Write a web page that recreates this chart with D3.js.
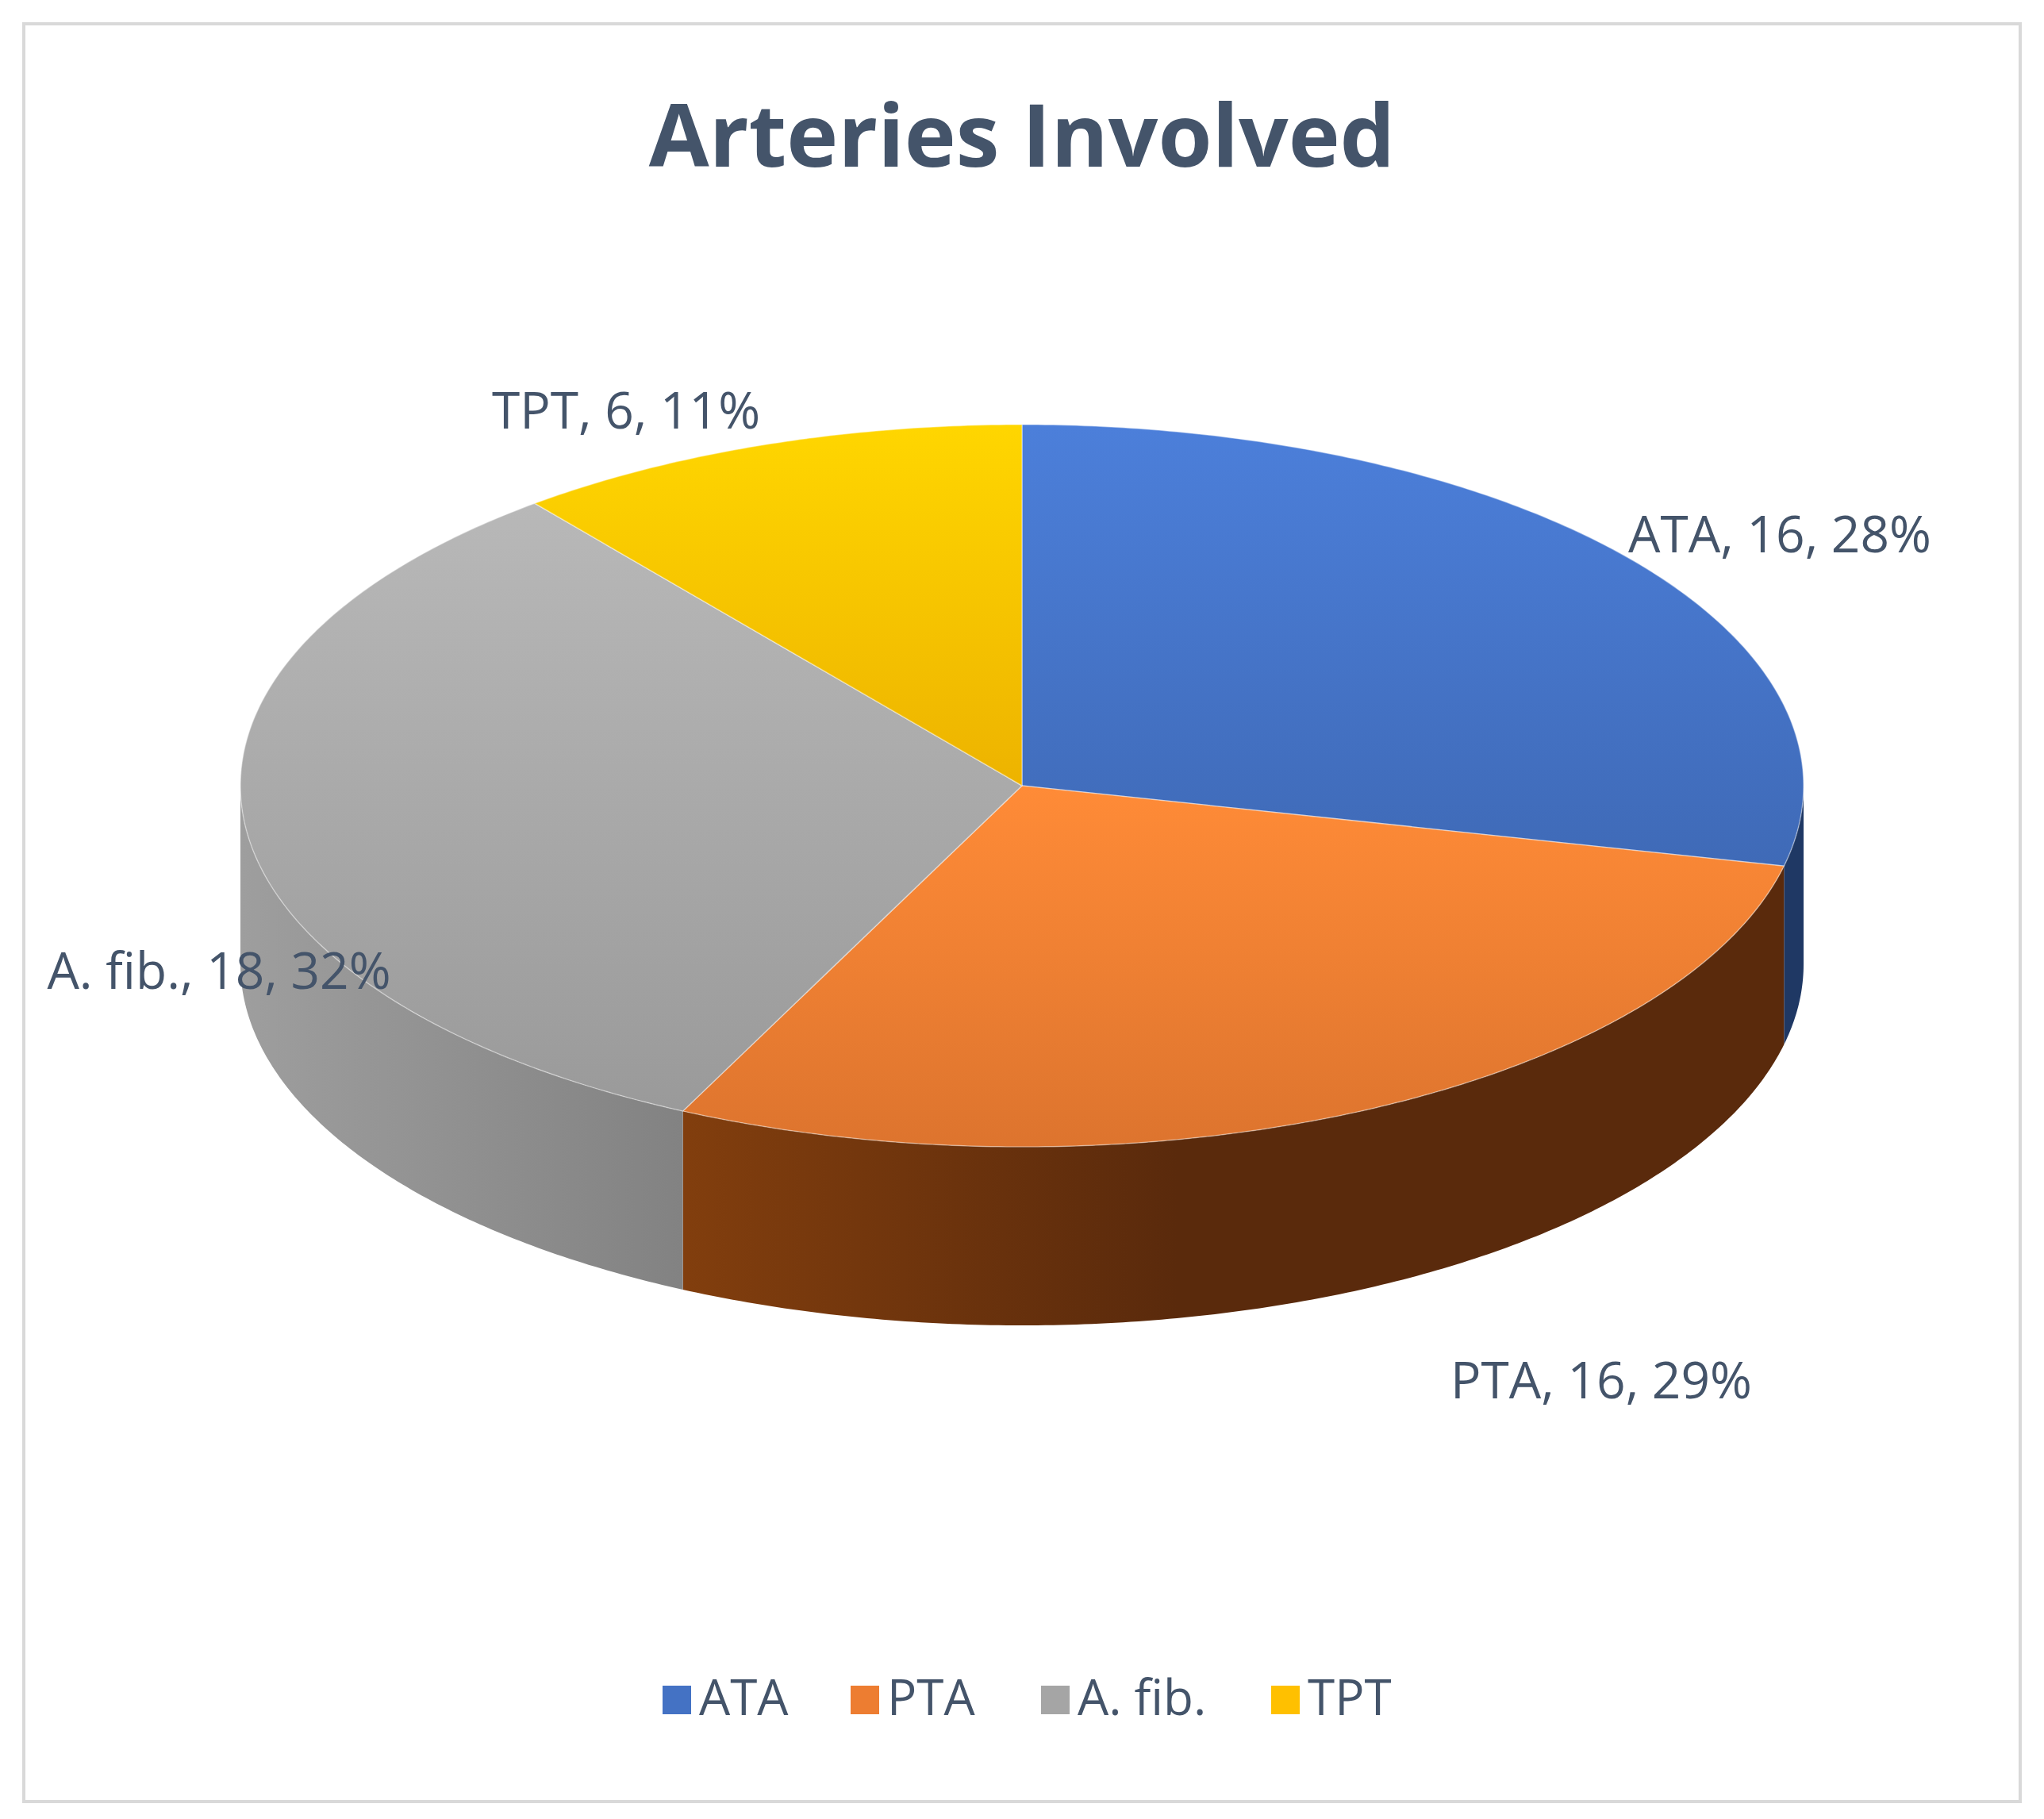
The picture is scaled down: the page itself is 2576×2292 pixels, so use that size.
<!DOCTYPE html><html><head><meta charset="utf-8">
<script src="https://cdn.jsdelivr.net/npm/d3@7"></script>
<style>body{margin:0;background:#fff}</style></head><body>
<svg id="c" width="2576" height="2292"></svg>
<script>
const categories=["ATA","PTA","A. fib.","TPT"];
const values=[16,16,18,6];
const percents=["28%","29%","32%","11%"];
const topColors=["#4472C4","#ED7D31","#A5A5A5","#FFC000"];
const sideLight=["#2F5597","#A5500F","#9E9E9E","#BF9000"];
const sideDark=["#1F3864","#5A2A0C","#636363","#7F6000"];
const labelPos=[[2243,679],[2018,1745],[276,1229],[789,523]];

const svg=d3.select("#c");
const W=2576,H=2292,cx=1288,cy=990,rx=985,ry=455,depth=225;
svg.append("rect").attr("x",30).attr("y",30).attr("width",2516).attr("height",2240).attr("fill","#fff").attr("stroke","#D9D9D9").attr("stroke-width",4);
svg.append("text").attr("x",W/2).attr("y",210).attr("text-anchor","middle").attr("font-family","Open Sans").attr("font-weight","bold").attr("font-size",110).attr("fill","#44546A").text("Arteries Involved");

const defs=svg.append("defs");
const pie=d3.pie().sort(null).value(d=>d)(values);
const P=(t,dy=0)=>[cx+rx*Math.sin(t),cy-ry*Math.cos(t)+dy];
function arcPts(a,b,dy=0){const n=Math.max(2,Math.ceil((b-a)/0.01));return d3.range(n+1).map(i=>P(a+(b-a)*i/n,dy));}
const line=d3.line();
topColors.forEach((c,i)=>{
 const g=defs.append("linearGradient").attr("id","t"+i).attr("x1",0).attr("y1",0).attr("x2",0).attr("y2",1);
 g.append("stop").attr("offset",0).attr("stop-color",d3.color(c).brighter(0.3));
 g.append("stop").attr("offset",1).attr("stop-color",d3.color(c).darker(0.2));
 const s=defs.append("linearGradient").attr("id","s"+i).attr("gradientUnits","userSpaceOnUse").attr("x1",cx-rx).attr("x2",cx+rx).attr("y1",0).attr("y2",0);
 s.append("stop").attr("offset",0).attr("stop-color",sideLight[i]);
 s.append("stop").attr("offset",0.6).attr("stop-color",sideDark[i]);
 s.append("stop").attr("offset",1).attr("stop-color",sideDark[i]);
});
pie.forEach((d,i)=>{
 const a=Math.max(d.startAngle,Math.PI/2),b=Math.min(d.endAngle,3*Math.PI/2);
 if(b<=a)return;
 const top=arcPts(a,b),bot=arcPts(a,b,depth).reverse();
 svg.append("path").attr("d",line(top.concat(bot))+"Z").attr("fill",`url(#s${i})`);
});
pie.forEach((d,i)=>{
 const pts=[[cx,cy]].concat(arcPts(d.startAngle,d.endAngle));
 svg.append("path").attr("d",line(pts)+"Z").attr("fill",`url(#t${i})`).attr("stroke","#fff").attr("stroke-width",1.5).attr("stroke-opacity",0.4);
});
pie.forEach((d,i)=>{
 svg.append("text").attr("x",labelPos[i][0]).attr("y",labelPos[i][1]).attr("text-anchor","middle").attr("dominant-baseline","middle")
  .attr("font-family","Open Sans").attr("font-size",64).attr("fill","#44546A")
  .text(`${categories[i]}, ${values[i]}, ${percents[i]}`);
});
const lx=[835,1072,1312,1602];
categories.forEach((c,i)=>{
 svg.append("rect").attr("x",lx[i]).attr("y",2124).attr("width",36).attr("height",36).attr("fill",topColors[i]);
 svg.append("text").attr("x",lx[i]+46).attr("y",2144).attr("dominant-baseline","middle").attr("font-family","Open Sans").attr("font-size",62).attr("fill","#44546A").text(c);
});
</script></body></html>
